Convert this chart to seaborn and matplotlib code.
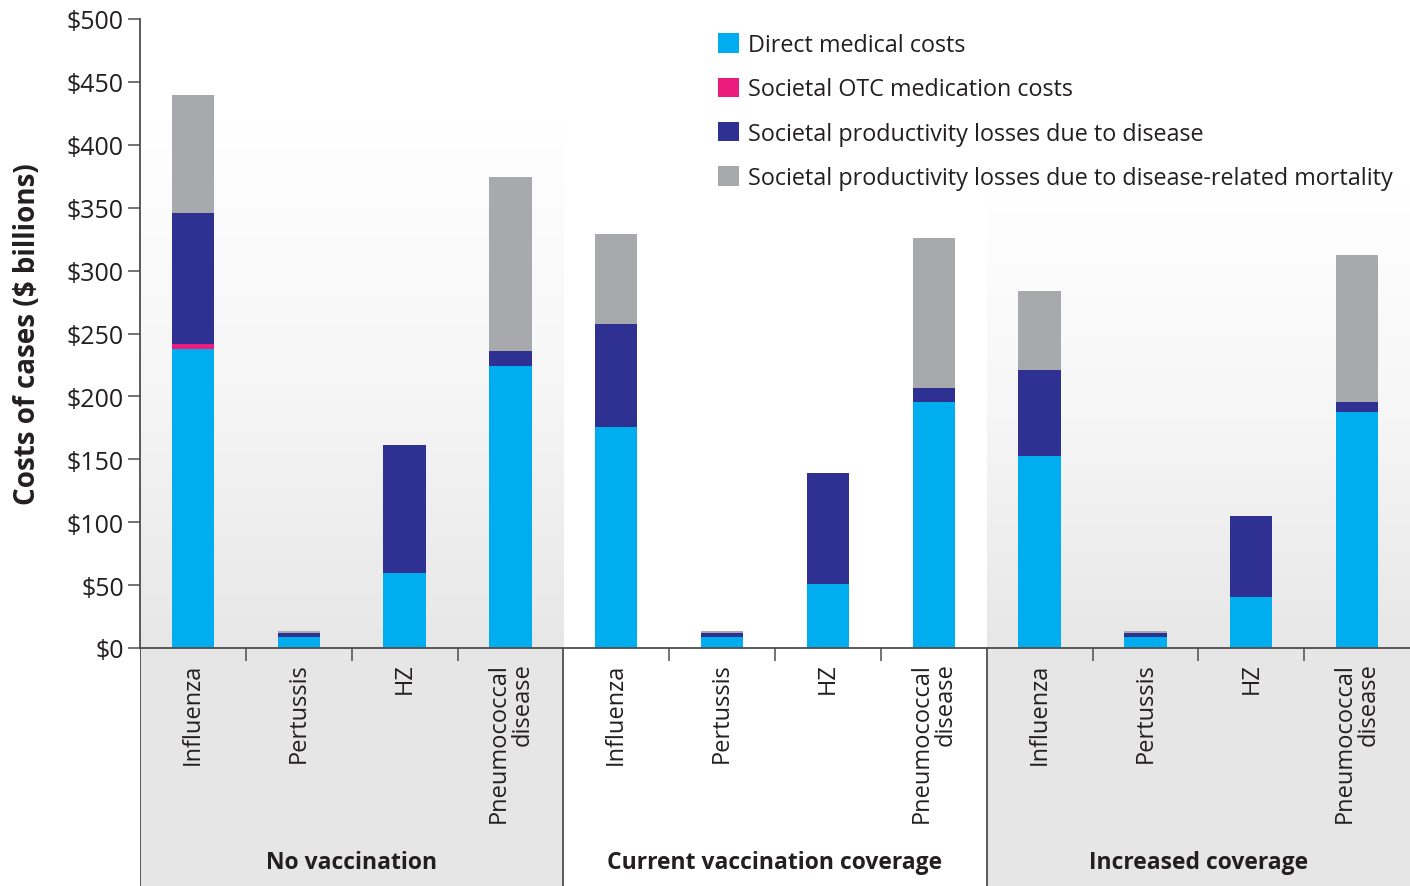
import numpy as np
import pandas as pd
import matplotlib
matplotlib.use("Agg")
import matplotlib.pyplot as plt
from matplotlib.patches import Rectangle
from matplotlib.colors import LinearSegmentedColormap
import seaborn as sns

# ---------------- data ----------------
scenarios = ["No vaccination", "Current vaccination coverage", "Increased coverage"]
diseases = ["Influenza", "Pertussis", "HZ", "Pneumococcal\ndisease"]

# values in $ billions, order: scenario-major, disease-minor
direct_medical = [238, 8.5, 59.6, 224,
                  175.4, 8.5, 50.9, 195.3,
                  152.9, 8.5, 40.3, 187.4]
otc_medication = [3.5, 0, 0, 0,
                  0, 0, 0, 0,
                  0, 0, 0, 0]
productivity_disease = [104.3, 3.4, 101.8, 11.7,
                        82.2, 3.4, 88.0, 11.4,
                        68.3, 3.4, 64.9, 7.9]
productivity_mortality = [94.0, 1.8, 0, 139.1,
                          71.5, 1.8, 0, 119.2,
                          62.3, 1.8, 0, 117.1]

series_names = ["Direct medical costs",
                "Societal OTC medication costs",
                "Societal productivity losses due to disease",
                "Societal productivity losses due to disease-related mortality"]
series_colors = ["#00AEEF", "#EC1C7E", "#2E3192", "#A7A9AC"]

yticks = [0, 50, 100, 150, 200, 250, 300, 350, 400, 450, 500]
ytick_labels = ["$0", "$50", "$100", "$150", "$200", "$250", "$300",
                "$350", "$400", "$450", "$500"]

# ---------------- table ----------------
keys = [f"{s}|{d}" for s in scenarios for d in diseases]
df = pd.DataFrame({
    "key": keys,
    "direct": direct_medical,
    "otc": otc_medication,
    "prod": productivity_disease,
    "mort": productivity_mortality,
})
df["c1"] = df["direct"]
df["c2"] = df["c1"] + df["otc"]
df["c3"] = df["c2"] + df["prod"]
df["c4"] = df["c3"] + df["mort"]

# ---------------- style ----------------
sns.set_style("white")
plt.rcParams["font.family"] = ["Open Sans", "DejaVu Sans"]
text_color = "#231F20"
spine_color = "#4D4D4D"

W, H = 1410, 887
fig = plt.figure(figsize=(W / 100, H / 100), dpi=100)

ax_left = 140 / W
ax_bottom = (H - 649) / H
ax_top = (H - 20) / H
ax = fig.add_axes([ax_left, ax_bottom, 1 - ax_left, ax_top - ax_bottom])
axb = fig.add_axes([ax_left, 0, 1 - ax_left, ax_bottom], zorder=-1)

# background gradients for groups 1 and 3 inside plot area
grad = np.linspace(0, 1, 256).reshape(-1, 1)
cmap_bg = LinearSegmentedColormap.from_list("bg", ["#E7E7E7", "#F6F6F6", "#FFFFFF"])
for g, top in ((0, 420), (2, 365)):
    x0 = g * 4 - 0.5
    ax.imshow(grad, extent=(x0, x0 + 4, 0, top), origin="lower",
              cmap=cmap_bg, aspect="auto", zorder=0, interpolation="bicubic")

# stacked bars: draw cumulative totals back to front
layers = [("c4", 3), ("c3", 2), ("c2", 1), ("c1", 0)]
for col, idx in layers:
    sns.barplot(data=df, x="key", y=col, order=keys, color=series_colors[idx],
                width=0.4, linewidth=0, errorbar=None, saturation=1,
                ax=ax, zorder=2)

ax.set_xlim(-0.5, 11.5)
ax.set_ylim(0, 500)
ax.set_xlabel("")
ax.set_ylabel("Costs of cases ($ billions)", fontsize=20, fontweight="bold",
              color=text_color)
ax.yaxis.set_label_coords((42 - 140) / (W - 140), 0.5)

# y axis
ax.set_yticks(yticks)
ax.set_yticklabels(ytick_labels, fontsize=18, color=text_color)
ax.tick_params(axis="y", direction="out", length=8.6, width=1.1,
               color=spine_color, pad=3, left=True)

# x axis: labels at centers, ticks at dividers
ax.set_xticks(range(12))
ax.set_xticklabels([d for s in scenarios for d in diseases], rotation=90,
                   fontsize=17, color=text_color, va="top", ha="center",
                   multialignment="right", linespacing=1.0)
ax.tick_params(axis="x", which="major", length=0, pad=10.5)
ax.set_xticks([i + 0.5 for i in range(11) if (i + 1) % 4 != 0], minor=True)
ax.tick_params(axis="x", which="minor", direction="out", length=9.4,
               width=1.1, color=spine_color, bottom=True)

for side in ("top", "right"):
    ax.spines[side].set_visible(False)
for side in ("left", "bottom"):
    ax.spines[side].set_color(spine_color)
    ax.spines[side].set_linewidth(1.3)
ax.patch.set_alpha(0)
ax.grid(False)

# bottom label area
axb.set_xlim(-0.5, 11.5)
axb.set_ylim(0, 1)
axb.axis("off")
for g in (0, 2):
    axb.add_patch(Rectangle((g * 4 - 0.5, 0), 4, 1, facecolor="#E6E6E6",
                            edgecolor="none", zorder=0))
for xv in (-0.5, 3.5, 7.5):
    axb.plot([xv, xv], [0, 1], color=spine_color, lw=1.3, zorder=3,
             solid_capstyle="butt")
for g, name in enumerate(scenarios):
    axb.text(g * 4 + 1.5, (H - 863) / (H - 649), name, ha="center",
             va="center", fontsize=16.5, fontweight="bold", color=text_color)

# legend
handles = [Rectangle((0, 0), 1, 1, facecolor=c, edgecolor="none")
           for c in series_colors]
fig.legend(handles, series_names, loc="upper left",
           bbox_to_anchor=(718 / W, 1 - 34 / H), frameon=False,
           fontsize=16.8, handlelength=0.9, handleheight=0.9,
           handletextpad=0.4, labelspacing=0.87, borderpad=0,
           borderaxespad=0, labelcolor=text_color)

fig.savefig("out.png", dpi=100)
